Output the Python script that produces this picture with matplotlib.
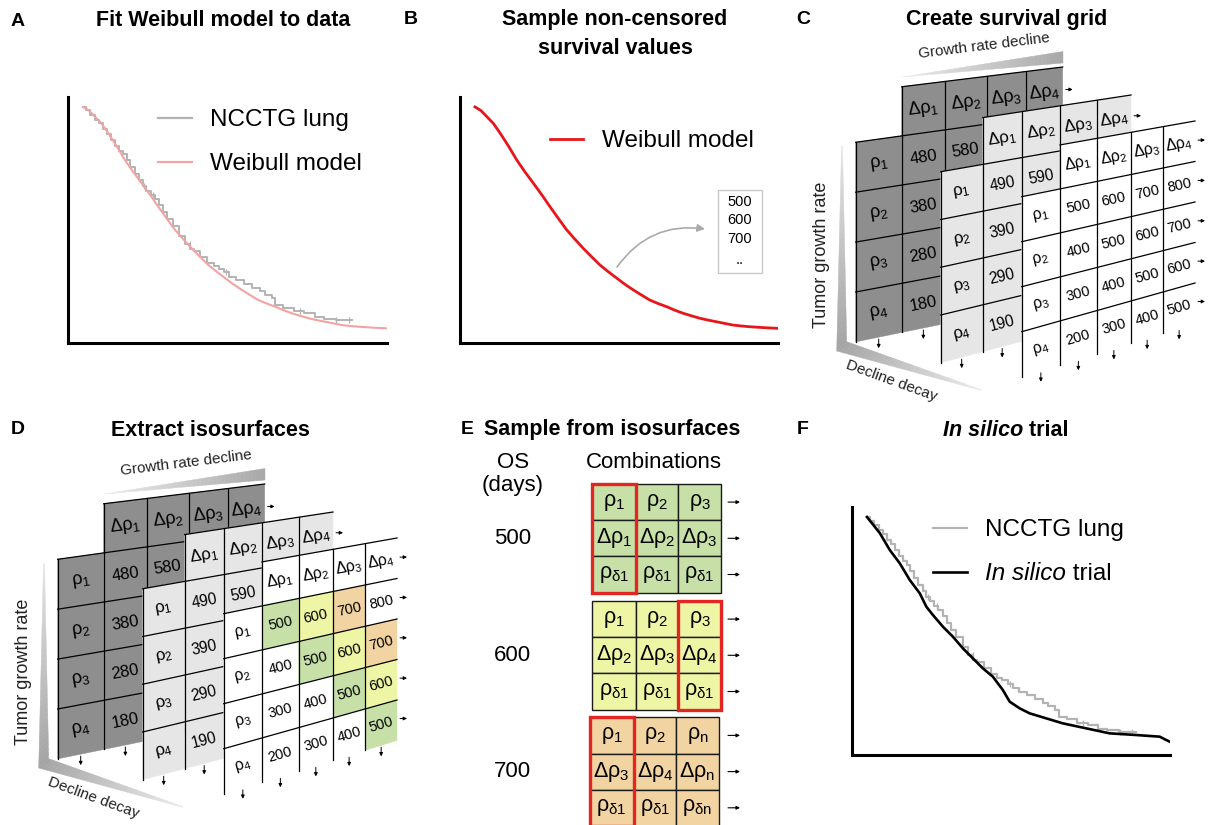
import numpy as np
import matplotlib
matplotlib.use("Agg")
import matplotlib.pyplot as plt
from matplotlib.patches import Polygon, Rectangle
from matplotlib import font_manager

# ---------------- data ----------------
ncctg_days = [0, 11, 26, 45, 60, 75, 92, 107, 122, 137, 151, 165, 180, 196, 212, 226, 240, 256,
              272, 288, 305, 320, 340, 365, 385, 405, 420, 445, 470, 495, 515, 535, 555, 580,
              610, 640, 670, 690, 715, 730, 760, 800, 840, 880, 915, 960, 1022]
ncctg_surv = [1.00, 0.985, 0.965, 0.945, 0.93, 0.905, 0.885, 0.86, 0.835, 0.815, 0.80, 0.775,
              0.745, 0.715, 0.69, 0.665, 0.645, 0.625, 0.61, 0.585, 0.555, 0.525, 0.495, 0.455,
              0.42, 0.40, 0.39, 0.365, 0.34, 0.325, 0.315, 0.30, 0.28, 0.265, 0.25, 0.235, 0.22,
              0.205, 0.19, 0.16, 0.15, 0.135, 0.125, 0.11, 0.103, 0.098, 0.097]
ncctg_censor_days = [233, 265, 404, 543, 822, 961, 1010]

weibull_days = [0, 22, 44, 70, 95, 127, 159, 190, 222, 254, 285, 317, 349, 380, 412, 444, 475,
                507, 539, 570, 602, 634, 665, 697, 729, 760, 792, 824, 855, 887, 919, 950, 982,
                1014, 1045, 1100, 1153]
weibull_surv = [1.0, 0.985, 0.96, 0.93, 0.89, 0.835, 0.775, 0.725, 0.677, 0.628, 0.578, 0.528,
                0.479, 0.44, 0.401, 0.365, 0.331, 0.302, 0.275, 0.249, 0.225, 0.203, 0.182, 0.167,
                0.154, 0.139, 0.126, 0.115, 0.105, 0.097, 0.090, 0.083, 0.076, 0.072, 0.069,
                0.065, 0.062]

insilico_days = [0, 49, 87, 125, 163, 201, 226, 251, 289, 327, 365, 403, 441, 479, 517, 543,
                 581, 619, 682, 745, 834, 923, 1024, 1114, 1135, 1152]
insilico_surv = [1.0, 0.932, 0.861, 0.805, 0.735, 0.679, 0.623, 0.588, 0.539, 0.497, 0.448,
                 0.406, 0.364, 0.329, 0.273, 0.224, 0.196, 0.175, 0.154, 0.133, 0.112, 0.091,
                 0.084, 0.077, 0.065, 0.056]

sampled_os = ["500", "600", "700", ".."]

row_params = [r"$\rho_1$", r"$\rho_2$", r"$\rho_3$", r"$\rho_4$"]
col_params = [r"$\Delta\rho_1$", r"$\Delta\rho_2$", r"$\Delta\rho_3$", r"$\Delta\rho_4$"]
layer1_values = [[480, 580, 680, 780], [380, 480, 580, 680], [280, 380, 480, 580], [180, 280, 380, 480]]
layer2_values = [[490, 590, 690, 790], [390, 490, 590, 690], [290, 390, 490, 590], [190, 290, 390, 490]]
layer3_values = [[500, 600, 700, 800], [400, 500, 600, 700], [300, 400, 500, 600], [200, 300, 400, 500]]

os_days = [500, 600, 700]
iso_colors = {500: "#c6e0a7", 600: "#eef5a4", 700: "#f1d4a1"}
combo_rho = [[r"$\rho_1$", r"$\rho_2$", r"$\rho_3$"],
             [r"$\rho_1$", r"$\rho_2$", r"$\rho_3$"],
             [r"$\rho_1$", r"$\rho_2$", r"$\rho_n$"]]
combo_drho = [[r"$\Delta\rho_1$", r"$\Delta\rho_2$", r"$\Delta\rho_3$"],
              [r"$\Delta\rho_2$", r"$\Delta\rho_3$", r"$\Delta\rho_4$"],
              [r"$\Delta\rho_3$", r"$\Delta\rho_4$", r"$\Delta\rho_n$"]]
combo_decay = [[r"$\rho_{\delta1}$", r"$\rho_{\delta1}$", r"$\rho_{\delta1}$"],
               [r"$\rho_{\delta1}$", r"$\rho_{\delta1}$", r"$\rho_{\delta1}$"],
               [r"$\rho_{\delta1}$", r"$\rho_{\delta1}$", r"$\rho_{\delta n}$"]]
combo_selected = [0, 2, 0]

# ---------------- style ----------------
plt.rcParams["font.family"] = ["Liberation Sans", "DejaVu Sans"]
plt.rcParams["mathtext.fontset"] = "custom"
plt.rcParams["mathtext.rm"] = "Liberation Sans"
plt.rcParams["mathtext.it"] = "Liberation Sans:italic"
plt.rcParams["mathtext.bf"] = "Liberation Sans:bold"
plt.rcParams["mathtext.default"] = "regular"
names = {f.name for f in font_manager.fontManager.ttflist}
NARROW = "Liberation Sans Narrow" if "Liberation Sans Narrow" in names else "Liberation Sans"

W, H = 1208, 825
fig = plt.figure(figsize=(W / 100, H / 100), dpi=100)
fig.patch.set_facecolor("white")


def px_axes(l, t, r, b):
    return fig.add_axes([l / W, 1 - b / H, (r - l) / W, (b - t) / H])


def style_km(ax):
    ax.set_xlim(-57, 1153)
    ax.set_ylim(0, 1.042)
    for s in ["top", "right"]:
        ax.spines[s].set_visible(False)
    for s in ["left", "bottom"]:
        ax.spines[s].set_linewidth(2.2)
        ax.spines[s].set_color("black")
    ax.set_xticks([])
    ax.set_yticks([])
    ax.patch.set_alpha(0)


def censor_y(days):
    idx = np.searchsorted(ncctg_days, days, side="right") - 1
    return [ncctg_surv[i] for i in idx]


GRAY = "#b3b3b3"
# Panel A
axA = px_axes(68, 97, 387, 343)
style_km(axA)
axA.step(ncctg_days, ncctg_surv, where="post", color=GRAY, lw=1.4)
axA.plot(ncctg_censor_days, censor_y(ncctg_censor_days), ls="none", marker="|", ms=5, mew=0.9, color=GRAY)
axA.plot(weibull_days, weibull_surv, color="#f4a3a3", lw=1.5)

# Panel B
axB = px_axes(460, 97, 778, 343)
style_km(axB)
axB.plot(weibull_days, weibull_surv, color="#e8151b", lw=2.0)

# Panel F
axF = px_axes(852, 507, 1170, 755)
style_km(axF)
axF.step(ncctg_days, ncctg_surv, where="post", color=GRAY, lw=1.6)
axF.plot(ncctg_censor_days, censor_y(ncctg_censor_days), ls="none", marker="|", ms=5, mew=0.9, color=GRAY)
axF.plot(insilico_days, insilico_surv, color="black", lw=1.9)

# ---------------- overlay (pixel coordinates) ----------------
ov = fig.add_axes([0, 0, 1, 1])
ov.set_xlim(0, W)
ov.set_ylim(H, 0)
ov.axis("off")
renderer = fig.canvas.get_renderer()


def txt(x, y, s, **kw):
    kw.setdefault("ha", "center")
    kw.setdefault("va", "center")
    return ov.text(x, y, s, **kw)


def text_width(t):
    bb = t.get_window_extent(renderer=renderer)
    return bb.width


# panel letters and titles
TFS = 15.5
LFS = 14
for lx, ly, lt in [(18, 21, "A"), (411, 20, "B"), (803, 20, "C"), (18, 430, "D"), (467, 430, "E"), (803, 430, "F")]:
    txt(lx, ly, lt, fontsize=LFS, fontweight="bold")
txt(223, 21, "Fit Weibull model to data", fontsize=TFS, fontweight="bold")
txt(615, 20, "Sample non-censored", fontsize=TFS, fontweight="bold")
txt(615, 48, "survival values", fontsize=TFS, fontweight="bold")
txt(1007, 19, "Create survival grid", fontsize=TFS, fontweight="bold")
txt(210, 430, "Extract isosurfaces", fontsize=TFS, fontweight="bold")
txt(612, 430, "Sample from isosurfaces", fontsize=TFS, fontweight="bold")
tF1 = txt(0, 430, "In silico", fontsize=TFS, fontweight="bold", style="italic", ha="left")
tF2 = txt(0, 430, " trial", fontsize=TFS, fontweight="bold", ha="left")
w1, w2 = text_width(tF1), text_width(tF2)
x_start = 1006 - (w1 + w2) / 2
tF1.set_x(x_start)
tF2.set_x(x_start + w1)

# legends
LEGFS = 17.5
ov.plot([158, 192], [118, 118], color=GRAY, lw=1.6)
txt(210, 120, "NCCTG lung", fontsize=LEGFS, ha="left")
ov.plot([158, 192], [162, 162], color="#f4a3a3", lw=1.6)
txt(210, 164, "Weibull model", fontsize=LEGFS, ha="left")

ov.plot([550, 583], [139, 139], color="#e8151b", lw=2.0)
txt(602, 141, "Weibull model", fontsize=LEGFS, ha="left")

ov.plot([933, 967], [528, 528], color=GRAY, lw=1.6)
txt(985, 530, "NCCTG lung", fontsize=LEGFS, ha="left")
ov.plot([933, 967], [572, 572], color="black", lw=1.9)
tL1 = txt(985, 574, "In silico", fontsize=LEGFS, ha="left", style="italic")
tL2 = txt(985 + text_width(tL1), 574, " trial", fontsize=LEGFS, ha="left")

# panel B sampled values box and arrow
ov.add_patch(Rectangle((718, 190), 44, 83, facecolor="white", edgecolor="#c8c8c8", lw=1.0))
for i, s in enumerate(sampled_os):
    txt(740, 202 + i * 18.5 + (2 if s == ".." else 0), s, fontsize=10.5)
ov.annotate("", xy=(705, 229), xytext=(617, 267),
            arrowprops=dict(arrowstyle="-|>", color="#aaaaaa", lw=1.2, mutation_scale=11,
                            connectionstyle="arc3,rad=-0.3", shrinkA=0, shrinkB=0))


# ---------------- 3D survival grid ----------------
def wedge(a1, a2, b1, b2, c_a, c_b, dx, dy, n=40):
    a1, a2, b1, b2 = (np.array(p, float) + [dx, dy] for p in (a1, a2, b1, b2))
    ca = np.array(matplotlib.colors.to_rgb(c_a))
    cb = np.array(matplotlib.colors.to_rgb(c_b))
    ts = np.linspace(0, 1, n + 1)
    for i in range(n):
        t0, t1 = ts[i], ts[i + 1]
        p = [a1 + (b1 - a1) * t0, a1 + (b1 - a1) * t1, a2 + (b2 - a2) * t1, a2 + (b2 - a2) * t0]
        col = ca + (cb - ca) * (t0 + t1) / 2
        ov.add_patch(Polygon(p, closed=True, facecolor=col, edgecolor=col, lw=0.3, zorder=0.5))


def arrow(x0, y0, x1, y1, z, ms=5, lw=0.7):
    ov.annotate("", xy=(x1, y1), xytext=(x0, y0),
                arrowprops=dict(arrowstyle="-|>", color="black", lw=lw, mutation_scale=ms,
                                shrinkA=0, shrinkB=0), zorder=z)


def draw_layer(geom, values, fill, fs, z, dx, dy, colors=None):
    xl, colw, top_l, rh_l, top_r, rh_r = geom
    xe = xl + dx + np.concatenate([[0], np.cumsum(colw)])
    xr = xe[-1]
    x_left = xe[0]

    def yline(r, x):
        t = (x - x_left) / (xr - x_left)
        return (top_l + r * rh_l) * (1 - t) + (top_r + r * rh_r) * t + dy

    def slope_mid(r):
        return ((top_r + (r + 0.5) * rh_r) - (top_l + (r + 0.5) * rh_l)) / (xr - x_left)

    for r in range(5):
        ang = np.degrees(np.arctan(-slope_mid(r)))
        for c in range(5):
            if r == 0 and c == 0:
                continue
            xa, xb = xe[c], xe[c + 1]
            face = fill
            if r >= 1 and c >= 1 and colors is not None and values[r - 1][c - 1] in colors:
                face = colors[values[r - 1][c - 1]]
            poly = [(xa, yline(r, xa)), (xb, yline(r, xb)), (xb, yline(r + 1, xb)), (xa, yline(r + 1, xa))]
            ov.add_patch(Polygon(poly, closed=True, facecolor=face, edgecolor=face, lw=0.3, zorder=z))
            xm = (xa + xb) / 2
            ym = (yline(r, xm) + yline(r + 1, xm)) / 2
            if r == 0:
                lab, f = col_params[c - 1], fs * 1.1
            elif c == 0:
                lab, f = row_params[r - 1], fs * 1.1
            else:
                lab, f = str(values[r - 1][c - 1]), fs
            ov.text(xm, ym, lab, fontsize=f, rotation=ang, rotation_mode="anchor",
                    ha="center", va="center", zorder=z + 0.2)
    lw = 0.9
    ov.plot([xe[1], xr], [yline(0, xe[1]), yline(0, xr)], color="k", lw=lw, zorder=z + 0.1)
    for r in range(1, 5):
        ov.plot([xe[0], xr], [yline(r, xe[0]), yline(r, xr)], color="k", lw=lw, zorder=z + 0.1)
    ov.plot([xe[0], xe[0]], [yline(1, xe[0]), yline(5, xe[0])], color="k", lw=lw, zorder=z + 0.1)
    for c in range(1, 5):
        ov.plot([xe[c], xe[c]], [yline(0, xe[c]), yline(5, xe[c])], color="k", lw=lw, zorder=z + 0.1)
    for r in range(5):
        ya = (yline(r, xr + 6) + yline(r + 1, xr + 6)) / 2
        arrow(xr + 3, ya, xr + 10, ya, z + 0.2)
    for c in range(5):
        xm = (xe[c] + xe[c + 1]) / 2
        yb = yline(5, xm)
        arrow(xm, yb + 2, xm, yb + 11, z + 0.2)


LAYER_GEOM = [
    (855.7, [46, 43.3, 41.7, 39, 37], 92.4, 49.9, 67.0, 46.5),
    (940.7, [42, 39, 38.3, 36.7, 34.3], 124.0, 47.75, 95.0, 43.5),
    (1021.7, [38.3, 36.7, 34.3, 32.3, 31.7], 151.7, 45.0, 121.0, 40.5),
]
LAYER_FILL = ["#8e8e8e", "#e6e6e6", "white"]
LAYER_FS = [12, 11.2, 10.5]
LAYER_VALUES = [layer1_values, layer2_values, layer3_values]


def survival_grid(dx, dy, colors=None):
    wedge((902, 77), (902, 77), (1063, 51.5), (1063, 63), "#ececec", "#a8a8a8", dx, dy)
    wedge((841.5, 146.7), (842.5, 146.7), (836.7, 351), (846.7, 341.7), "#e4e4e4", "#a4a4a4", dx, dy)
    wedge((836.7, 351), (846.7, 341.7), (981, 390.5), (981, 389.5), "#a4a4a4", "#ececec", dx, dy)
    ov.text(984 + dx, 46 + dy, "Growth rate decline", fontsize=11, family=NARROW, rotation=7,
            rotation_mode="anchor", ha="center", va="center", color="#222222")
    ov.text(822 + dx, 255 + dy, "Tumor growth rate", fontsize=13, rotation=90,
            rotation_mode="anchor", ha="center", va="center", color="#222222")
    ov.text(891 + dx, 381 + dy, "Decline decay", fontsize=11, family=NARROW, rotation=-20,
            rotation_mode="anchor", ha="center", va="center", color="#222222")
    for k in range(3):
        draw_layer(LAYER_GEOM[k], LAYER_VALUES[k], LAYER_FILL[k], LAYER_FS[k], 1 + k, dx, dy, colors)


survival_grid(0, 0)
survival_grid(-798, 417, iso_colors)

# ---------------- panel E ----------------
txt(512.7, 462, "OS", fontsize=16)
txt(512.7, 485, "(days)", fontsize=16)
txt(654, 462, "Combinations", fontsize=16)
blk_left = [591.7, 591.7, 589.5]
blk_top = [484.0, 601.0, 717.3]
cw = [44.3, 42.3, 42.7]
rh = 36.2
for k in range(3):
    xs = blk_left[k] + np.concatenate([[0], np.cumsum(cw)])
    top = blk_top[k]
    rows = [combo_rho[k], combo_drho[k], combo_decay[k]]
    for i in range(3):
        for j in range(3):
            ov.add_patch(Rectangle((xs[j], top + i * rh), cw[j], rh, facecolor=iso_colors[os_days[k]],
                                   edgecolor="#1a1a1a", lw=1.0, zorder=2))
            txt((xs[j] + xs[j + 1]) / 2, top + (i + 0.5) * rh, rows[i][j], fontsize=15.5, zorder=3)
        arrow(728, top + (i + 0.5) * rh, 740, top + (i + 0.5) * rh, 3, ms=5, lw=0.8)
    sel = combo_selected[k]
    ov.add_patch(Rectangle((xs[sel], top), cw[sel], 3 * rh, fill=False, edgecolor="#e32622",
                           lw=2.4, zorder=4))
    txt(512.7, top + 1.5 * rh, str(os_days[k]), fontsize=16)

fig.savefig("out.png", dpi=100)
